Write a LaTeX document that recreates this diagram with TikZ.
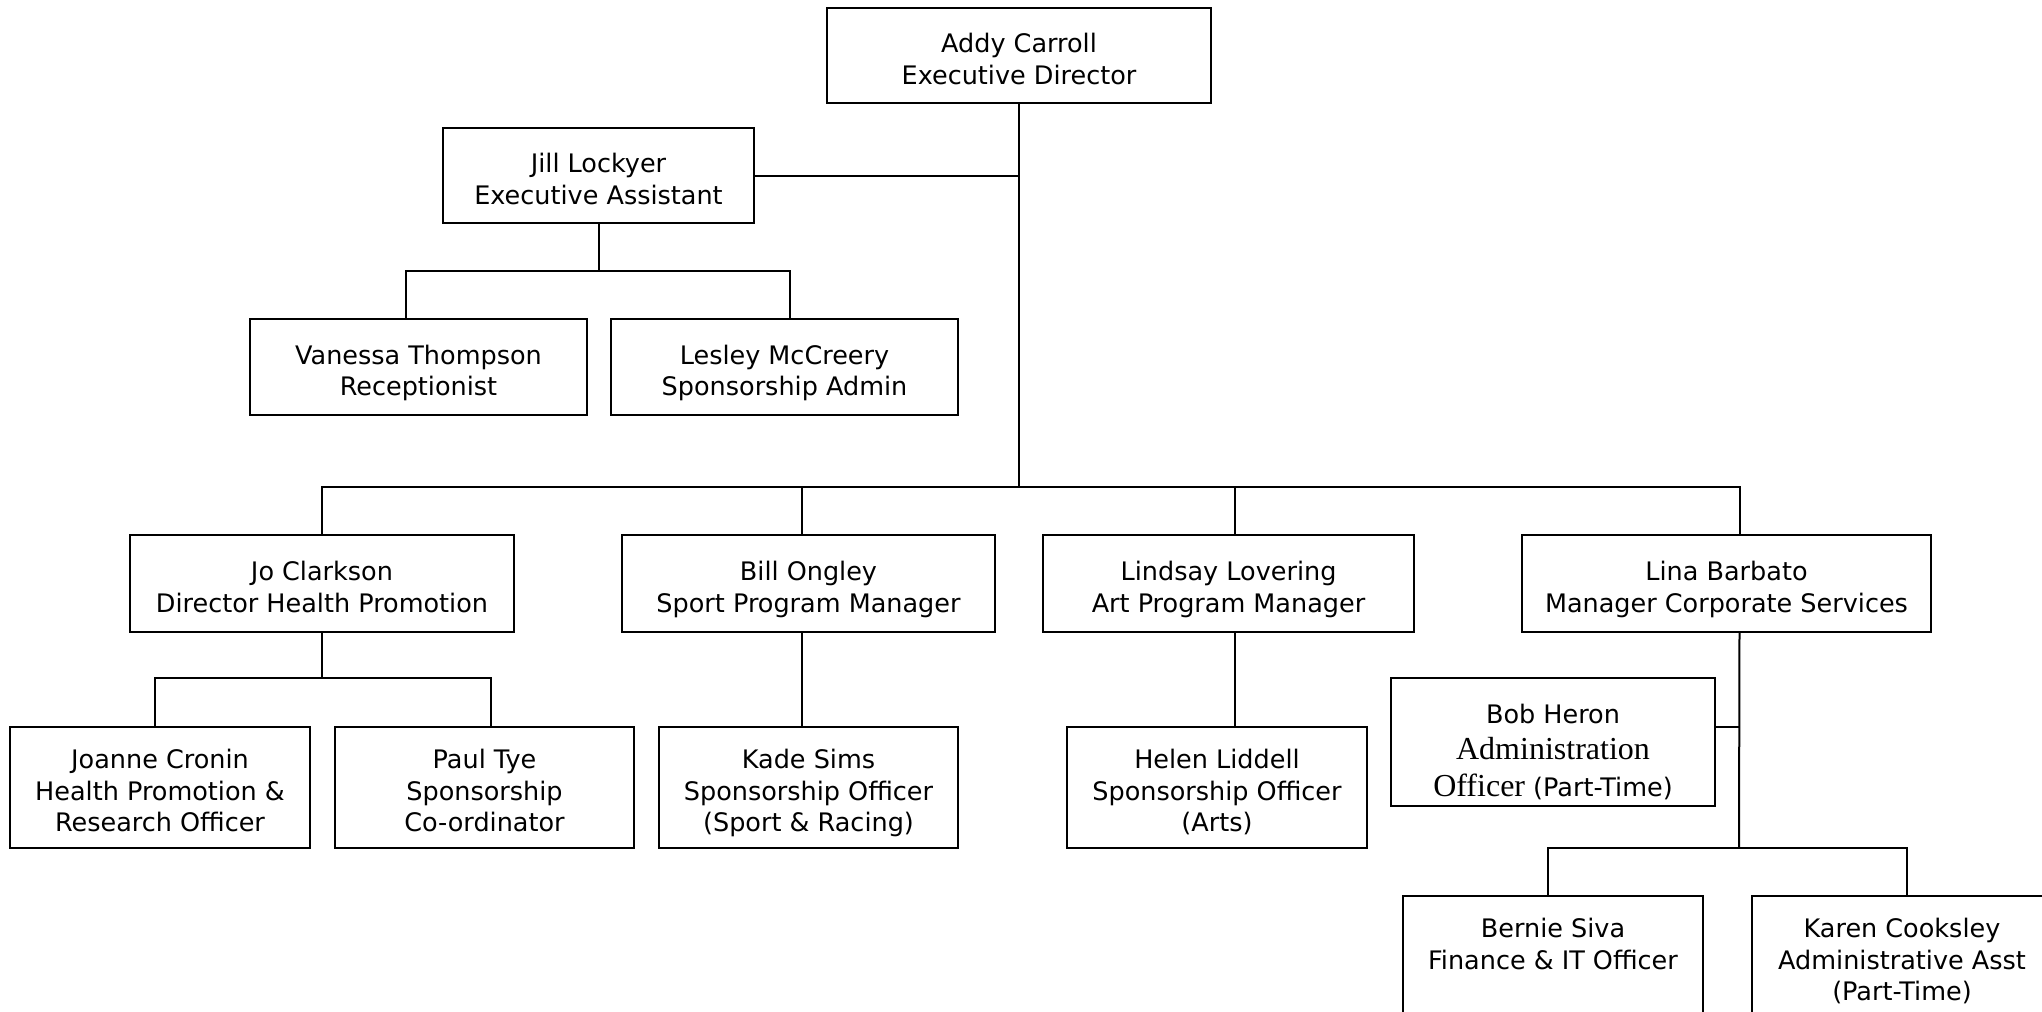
\documentclass[tikz,border=0pt]{standalone}
\usepackage{fontspec}
\setmainfont{DejaVu Sans}
\newfontfamily\bobserif{Liberation Serif}
\newcommand\ft{\rule{0pt}{16pt}}
\newcommand\fb{\rule[-3.2pt]{0pt}{1pt}}
\begin{document}
\begin{tikzpicture}[x=0.5pt,y=-0.5pt,
  box/.style={draw, line width=1pt, align=center, inner sep=0pt,
    font=\fontsize{12.75}{15.7}\selectfont},
  conn/.style={line width=1pt}]
\useasboundingbox (0,0) rectangle (2042,1012);
\clip (0,0) rectangle (2042,1012);
\fill[white] (0,0) rectangle (2042,1012);
% nodes
\node[box, minimum width=192pt, minimum height=47.5pt] (addy) at (1019,55.5) {\ft Addy Carroll\\Executive Director\fb};
\node[box, minimum width=155.5pt, minimum height=47.5pt] (jill) at (598.5,175.5) {\ft Jill Lockyer\\Executive Assistant\fb};
\node[box, minimum width=168.5pt, minimum height=48pt] (vanessa) at (418.5,367) {\ft Vanessa Thompson\\Receptionist\fb};
\node[box, minimum width=173.5pt, minimum height=48pt] (lesley) at (784.5,367) {\ft Lesley McCreery\\Sponsorship Admin\fb};
\node[box, minimum width=192pt, minimum height=48.5pt] (jo) at (322,583.5) {\ft Jo Clarkson\\Director Health Promotion\fb};
\node[box, minimum width=186.5pt, minimum height=48.5pt] (bill) at (808.5,583.5) {\ft Bill Ongley\\Sport Program Manager\fb};
\node[box, minimum width=185.5pt, minimum height=48.5pt] (lindsay) at (1228.5,583.5) {\ft Lindsay Lovering\\Art Program Manager\fb};
\node[box, minimum width=204.5pt, minimum height=48.5pt] (lina) at (1726.5,583.5) {\ft Lina Barbato\\Manager Corporate Services\fb};
\node[box, minimum width=150pt, minimum height=60.5pt] (joanne) at (160,787.5) {\ft Joanne Cronin\\Health Promotion \&\\Research Officer\fb};
\node[box, minimum width=149.5pt, minimum height=60.5pt] (paul) at (484.5,787.5) {\ft Paul Tye\\Sponsorship\\Co-ordinator\fb};
\node[box, minimum width=149.5pt, minimum height=60.5pt] (kade) at (808.5,787.5) {\ft Kade Sims\\Sponsorship Officer\\(Sport \& Racing)\fb};
\node[box, minimum width=150pt, minimum height=60.5pt] (helen) at (1217,787.5) {\ft Helen Liddell\\Sponsorship Officer\\(Arts)\fb};
\node[box, minimum width=162pt, minimum height=64pt, font=\fontsize{12.75}{18.2}\selectfont] (bob) at (1553,742) {\rule{0pt}{20.8pt}Bob Heron\\{\bobserif\fontsize{16}{18.2}\selectfont Administration}\\{\bobserif\fontsize{16}{18.2}\selectfont Officer} (Part-Time)\fb};
\node[box, minimum width=150pt, minimum height=60.5pt] (bernie) at (1553,956.5) {\ft Bernie Siva\\Finance \& IT Officer\\~\fb};
\node[box, minimum width=150pt, minimum height=60.5pt] (karen) at (1902,956.5) {\ft Karen Cooksley\\Administrative Asst\\(Part-Time)\fb};
% junction coordinates
\coordinate (mainbar) at (1019,487);
\coordinate (jillbar) at (598.5,271);
\coordinate (jobar) at (322,678);
\coordinate (linabar) at (1739,848);
% connectors
\draw[conn] (addy.south) -- (mainbar);
\draw[conn] (jill.east) -- (jill.east -| addy.south);
\draw[conn] (jill.south) -- (jillbar);
\draw[conn] ([xshift=-6.25pt]vanessa.north) |- (jillbar) -| ([xshift=2.75pt]lesley.north);
\draw[conn] (jo.north) |- (mainbar) -| ([xshift=6.5pt]lina.north);
\draw[conn] ([xshift=-3.25pt]bill.north) -- ([xshift=-3.25pt]bill.north |- mainbar);
\draw[conn] ([xshift=3.25pt]lindsay.north) -- ([xshift=3.25pt]lindsay.north |- mainbar);
\draw[conn] (jo.south) -- (jobar);
\draw[conn] ([xshift=-2.5pt]joanne.north) |- (jobar) -| ([xshift=3.25pt]paul.north);
\draw[conn] ([xshift=-3.25pt]bill.south) -- ([xshift=-3.25pt]bill.south |- kade.north);
\draw[conn] ([xshift=3.25pt]lindsay.south) -- ([xshift=3.25pt]lindsay.south |- helen.north);
\draw[conn] ([xshift=6.5pt]lina.south) -- (linabar);
\draw[conn] (bob.east |- 0,727) -- (1739,727);
\draw[conn] ([xshift=-2.5pt]bernie.north) |- (linabar) -| ([xshift=2.5pt]karen.north);
\end{tikzpicture}
\end{document}
